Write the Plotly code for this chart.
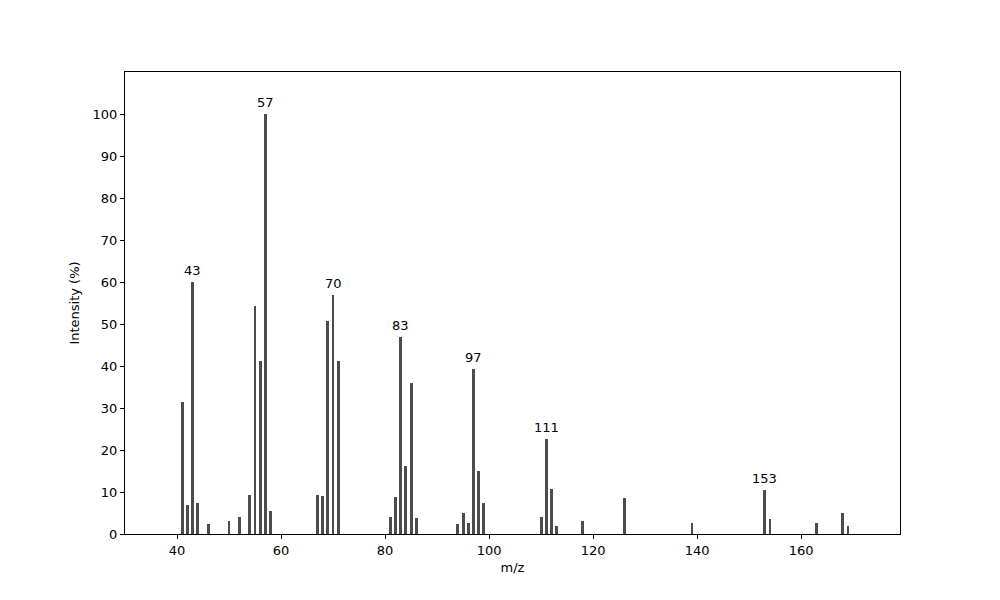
import plotly.graph_objects as go

mz = [41, 42, 43, 44, 46, 50, 52, 54, 55, 56, 57, 58,
      67, 68, 69, 70, 71, 81, 82, 83, 84, 85, 86,
      94, 95, 96, 97, 98, 99, 110, 111, 112, 113, 118, 126,
      139, 153, 154, 163, 168, 169]
intensity = [31.5, 6.9, 60.0, 7.4, 2.4, 3.1, 4.1, 9.3, 54.4, 41.3, 100.0, 5.5,
             9.3, 9.1, 50.8, 56.8, 41.3, 4.1, 8.8, 46.8, 16.2, 36.0, 3.8,
             2.4, 5.0, 2.6, 39.4, 15.0, 7.4, 4.1, 22.7, 10.8, 1.9, 3.1, 8.6,
             2.6, 10.5, 3.6, 2.6, 5.0, 1.9]
labeled = [43, 57, 70, 83, 97, 111, 153]

fig = go.Figure()
fig.add_trace(go.Bar(
    x=mz,
    y=intensity,
    width=0.55,
    marker={'color': '#4c4c4c', 'line': {'width': 0}},
    showlegend=False
))

for m in labeled:
    fig.add_annotation(
        x=m, y=intensity[mz.index(m)],
        text=str(m), showarrow=False,
        yanchor='bottom', yshift=2,
        font={'size': 13, 'color': 'black'}
    )

axis_style = dict(
    showline=True, linecolor='black', linewidth=1, mirror=True,
    ticks='outside', ticklen=4, tickcolor='black',
    showgrid=False, zeroline=False,
    tickfont={'size': 13, 'color': 'black'},
)

fig.update_xaxes(range=[30, 179], tickvals=[40, 60, 80, 100, 120, 140, 160],
                 title={'text': 'm/z', 'font': {'size': 13, 'color': 'black'}, 'standoff': 6},
                 **axis_style)
fig.update_yaxes(range=[0, 110], tickvals=list(range(0, 101, 10)),
                 title={'text': 'Intensity (%)', 'font': {'size': 13, 'color': 'black'}, 'standoff': 10},
                 **axis_style)

# the page adds an 8px body margin, so shift the plot area back
fig.update_layout(
    width=1000, height=600,
    margin={'l': 117, 'r': 108, 't': 64, 'b': 74},
    plot_bgcolor='white', paper_bgcolor='white',
    font={'family': 'DejaVu Sans', 'color': 'black'},
    bargap=0
)

fig.write_html("out.html")
